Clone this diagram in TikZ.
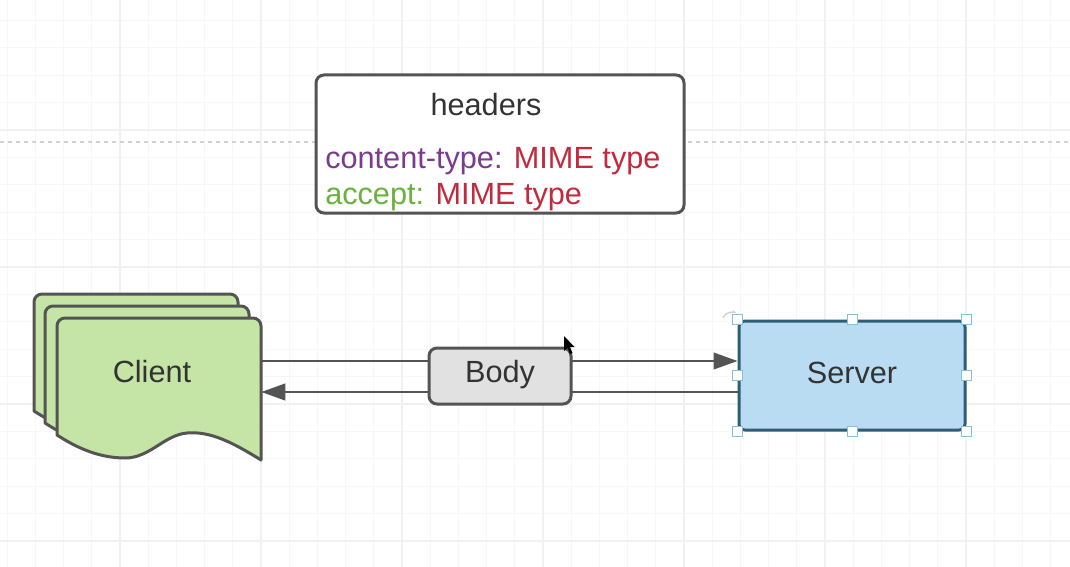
\documentclass[tikz,border=0pt]{standalone}
\usepackage{fontspec}
\setmainfont{Liberation Sans}
\usetikzlibrary{arrows.meta}
\definecolor{gridminor}{HTML}{F7F7F7}
\definecolor{gridmajor}{HTML}{F1F1F1}
\definecolor{dotgray}{HTML}{D2D2D2}
\definecolor{edge}{HTML}{545454}
\definecolor{clientfill}{HTML}{C4E5A5}
\definecolor{serverfill}{HTML}{BADCF3}
\definecolor{serveredge}{HTML}{2F5D74}
\definecolor{bodyfill}{HTML}{E1E1E1}
\definecolor{handle}{HTML}{86C0DE}
\definecolor{ctpurple}{HTML}{7A3C8C}
\definecolor{mimered}{HTML}{C22A3E}
\definecolor{accgreen}{HTML}{6AB23E}
\definecolor{txt}{HTML}{333333}
\tikzset{
  minorgrid/.style={draw=gridminor, line width=0.75pt},
  majorgrid/.style={draw=gridmajor, line width=0.9pt},
  dotline/.style={draw=dotgray, line width=0.9pt, dash pattern=on 3pt off 3pt},
  boxtext/.style={font=\fontsize{23}{27}\selectfont, text=txt, inner sep=0pt, anchor=base},
  linetext/.style={font=\fontsize{23}{27}\selectfont, inner sep=0pt, anchor=base west},
  hdrbox/.style={draw=edge, line width=2.25pt, fill=white, rounded corners=6pt, minimum width=276pt, minimum height=103.5pt, inner sep=0pt},
  bodybox/.style={draw=edge, line width=2.25pt, fill=bodyfill, rounded corners=6pt, minimum width=106.5pt, minimum height=42pt, inner sep=0pt},
  serverbox/.style={draw=serveredge, line width=2.25pt, fill=serverfill, rounded corners=4.5pt, minimum width=169.5pt, minimum height=81.75pt, inner sep=0pt},
  docstyle/.style={draw=edge, line width=2.25pt, fill=clientfill, line join=round},
  conn/.style={draw=edge, line width=1.5pt, -{Triangle[length=18pt, width=12.5pt]}},
  handlebox/.style={draw=handle, fill=white, line width=0.75pt, minimum size=7.5pt, inner sep=0pt},
  docpic/.pic={
    \path[docstyle] (57,435) [rounded corners=6pt] -- (57,318) -- (261,318) [sharp corners] -- (261,460)
      .. controls (232,442) and (210,431) .. (187,433)
      .. controls (164,435) and (150,458) .. (125,458)
      .. controls (97,458) and (74,446) .. (57,435) -- cycle;
  }
}
\begin{document}
\begin{tikzpicture}[x=0.75pt,y=-0.75pt]
\useasboundingbox (0,0) rectangle (1070,567);
\fill[white] (0,0) rectangle (1070,567);
% background grid
\foreach \i in {0,...,37} \draw[minorgrid] ({7.2+28.2*\i},0) -- ({7.2+28.2*\i},567);
\foreach \j in {0,...,20} \draw[minorgrid] (0,{20.4+27.4*\j}) -- (1070,{20.4+27.4*\j});
\foreach \i in {-1,...,6} \draw[majorgrid] ({120+141*\i},0) -- ({120+141*\i},567);
\foreach \j in {0,...,3} \draw[majorgrid] (0,{130+137*\j}) -- (1070,{130+137*\j});
\draw[dotline] (0,142) -- (1070,142);

% headers box
\node[hdrbox] (hdr) at (500,144) {};
\node[boxtext] (hdrtitle) at (486,115) {headers};
\node[linetext] (ctline) at (325,168) {\textcolor{ctpurple}{content-type:} \textcolor{mimered}{MIME type}};
\node[linetext] (accline) at (325,204) {\textcolor{accgreen}{accept:} \textcolor{mimered}{MIME type}};

% client (stacked documents)
\pic at (-23,-24) {docpic};
\pic at (-12,-12) {docpic};
\pic at (0,0) {docpic};
\node[minimum width=153pt, minimum height=106.5pt, inner sep=0pt] (client) at (159,389) {};
\node[boxtext] (clienttext) at (152,382) {Client};

% server
\node[serverbox] (server) at (852,375.5) {};
\node[boxtext] (servertext) at (852,383) {Server};

% connectors
\coordinate (ya) at (0,361);
\coordinate (yb) at (0,392);
\draw[conn] (client.east |- ya) -- (server.west |- ya);
\draw[conn] (server.west |- yb) -- (client.east |- yb);

% body
\node[bodybox] (body) at (500,376) {};
\node[boxtext] (bodytext) at (500,382) {Body};

% selection handles
\foreach \a/\n in {north west/h1, north/h2, north east/h3, west/h4, east/h5, south west/h6, south/h7, south east/h8}
  \node[handlebox] (\n) at (server.\a) {};
\draw[gray!40, line width=0.9pt, -{Stealth[length=3pt]}] (723,318) arc[start angle=200, end angle=300, radius=9];

% mouse cursor
\fill[black] (564,336) -- (564,351) -- (567.5,348) -- (570,354) -- (572.5,353) -- (570,347) -- (574.5,347) -- cycle;
\end{tikzpicture}
\end{document}
